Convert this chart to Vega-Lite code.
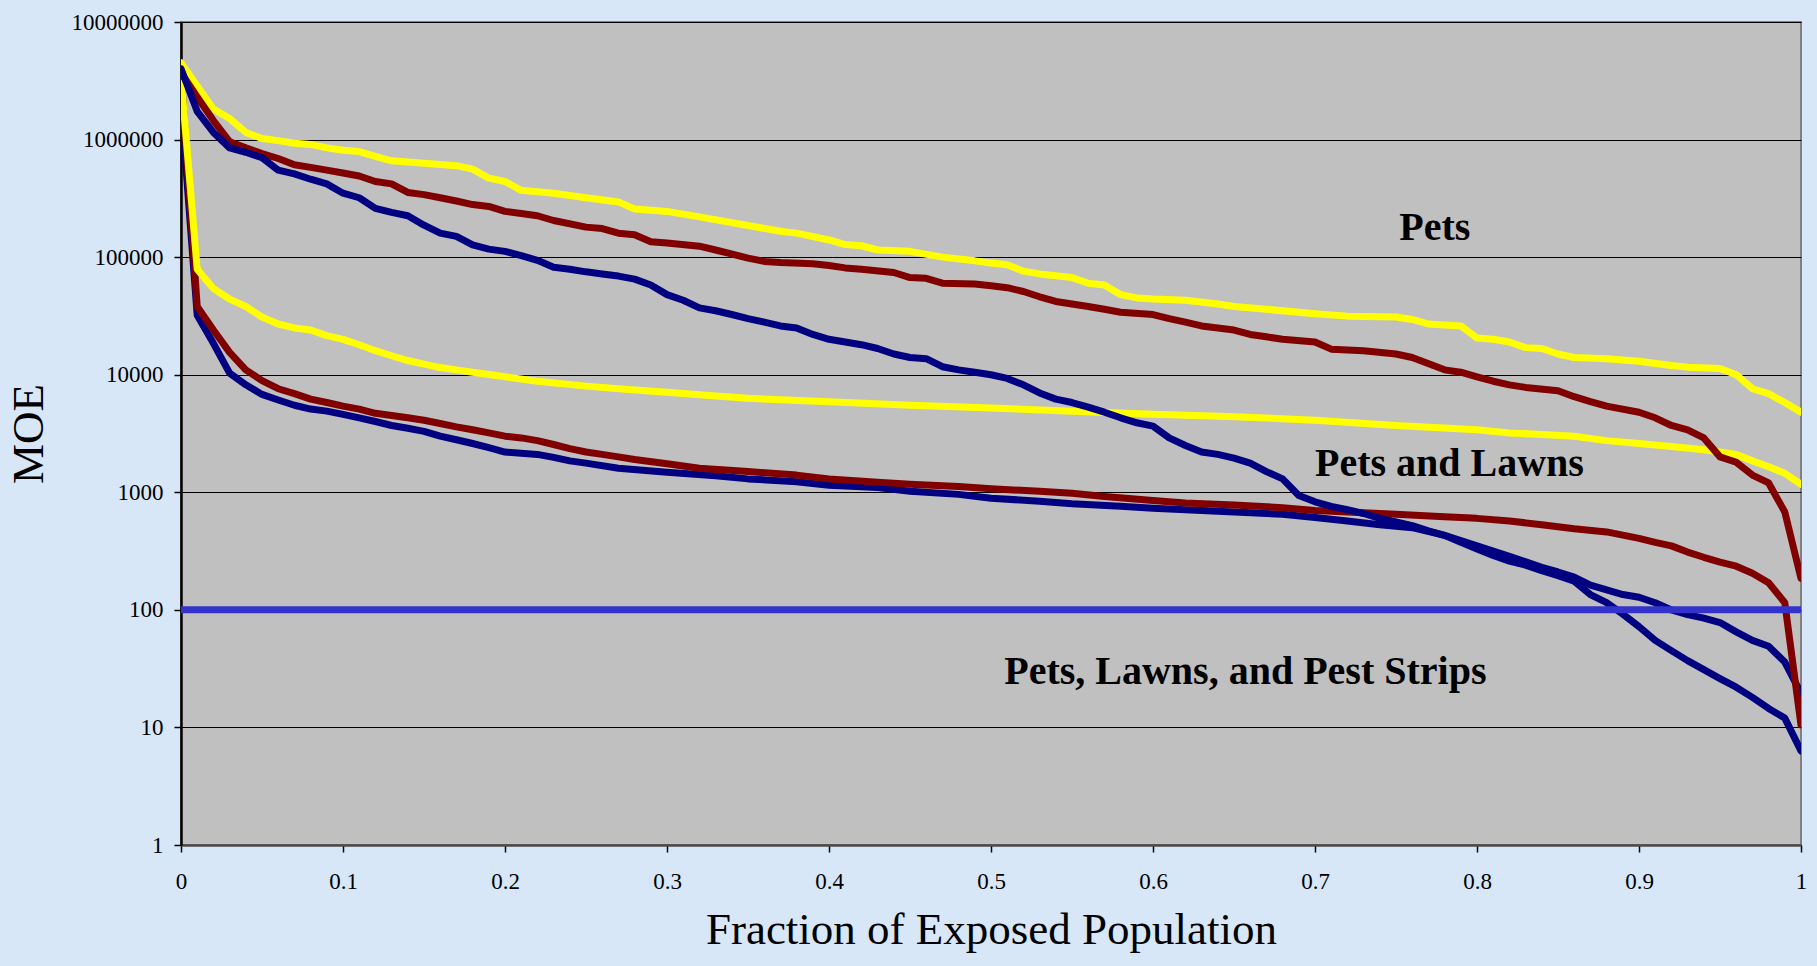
{
"$schema": "https://vega.github.io/schema/vega-lite/v6.json",
"width": 1620, "height": 823,
"autosize": {"type": "none"},
"padding": {"left": 181, "top": 22, "right": 16, "bottom": 121},
"background": "#D7E7F8",
"config": {"view": {"fill": "#C0C0C0", "stroke": "#808080", "strokeWidth": 2}, "font": "Liberation Serif"},
"datasets": {
"curves": [
{"s":"blue lower","f":0,"moe":2100000},{"s":"blue lower","f":0.01,"moe":32000},{"s":"blue lower","f":0.02,"moe":18500},{"s":"blue lower","f":0.03,"moe":10300},{"s":"blue lower","f":0.04,"moe":8200},{"s":"blue lower","f":0.05,"moe":6800},{"s":"blue lower","f":0.06,"moe":6100},{"s":"blue lower","f":0.07,"moe":5500},{"s":"blue lower","f":0.08,"moe":5100},{"s":"blue lower","f":0.09,"moe":4900},{"s":"blue lower","f":0.1,"moe":4600},{"s":"blue lower","f":0.11,"moe":4300},{"s":"blue lower","f":0.12,"moe":4000},{"s":"blue lower","f":0.13,"moe":3700},{"s":"blue lower","f":0.14,"moe":3500},{"s":"blue lower","f":0.15,"moe":3300},{"s":"blue lower","f":0.16,"moe":3000},{"s":"blue lower","f":0.17,"moe":2800},{"s":"blue lower","f":0.18,"moe":2600},{"s":"blue lower","f":0.19,"moe":2400},{"s":"blue lower","f":0.2,"moe":2200},{"s":"blue lower","f":0.22,"moe":2100},{"s":"blue lower","f":0.23,"moe":1980},{"s":"blue lower","f":0.24,"moe":1850},{"s":"blue lower","f":0.25,"moe":1770},{"s":"blue lower","f":0.27,"moe":1600},{"s":"blue lower","f":0.3,"moe":1480},{"s":"blue lower","f":0.33,"moe":1380},{"s":"blue lower","f":0.35,"moe":1300},{"s":"blue lower","f":0.38,"moe":1230},{"s":"blue lower","f":0.4,"moe":1150},{"s":"blue lower","f":0.43,"moe":1100},{"s":"blue lower","f":0.45,"moe":1020},{"s":"blue lower","f":0.48,"moe":960},{"s":"blue lower","f":0.5,"moe":890},{"s":"blue lower","f":0.53,"moe":840},{"s":"blue lower","f":0.55,"moe":800},{"s":"blue lower","f":0.58,"moe":760},{"s":"blue lower","f":0.6,"moe":730},{"s":"blue lower","f":0.63,"moe":700},{"s":"blue lower","f":0.65,"moe":680},{"s":"blue lower","f":0.68,"moe":650},{"s":"blue lower","f":0.7,"moe":610},{"s":"blue lower","f":0.72,"moe":570},{"s":"blue lower","f":0.74,"moe":530},{"s":"blue lower","f":0.76,"moe":500},{"s":"blue lower","f":0.78,"moe":430},{"s":"blue lower","f":0.8,"moe":350},{"s":"blue lower","f":0.82,"moe":285},{"s":"blue lower","f":0.84,"moe":230},{"s":"blue lower","f":0.85,"moe":210},{"s":"blue lower","f":0.86,"moe":190},{"s":"blue lower","f":0.87,"moe":162},{"s":"blue lower","f":0.88,"moe":148},{"s":"blue lower","f":0.89,"moe":135},{"s":"blue lower","f":0.9,"moe":128},{"s":"blue lower","f":0.91,"moe":115},{"s":"blue lower","f":0.92,"moe":100},{"s":"blue lower","f":0.93,"moe":91},{"s":"blue lower","f":0.94,"moe":85},{"s":"blue lower","f":0.95,"moe":78},{"s":"blue lower","f":0.96,"moe":65},{"s":"blue lower","f":0.97,"moe":55},{"s":"blue lower","f":0.98,"moe":49},{"s":"blue lower","f":0.99,"moe":36},{"s":"blue lower","f":1,"moe":19.5},
{"s":"red lower","f":0,"moe":3700000},{"s":"red lower","f":0.01,"moe":38000},{"s":"red lower","f":0.02,"moe":24000},{"s":"red lower","f":0.03,"moe":15500},{"s":"red lower","f":0.04,"moe":11000},{"s":"red lower","f":0.05,"moe":8900},{"s":"red lower","f":0.06,"moe":7600},{"s":"red lower","f":0.07,"moe":6900},{"s":"red lower","f":0.08,"moe":6200},{"s":"red lower","f":0.09,"moe":5800},{"s":"red lower","f":0.1,"moe":5400},{"s":"red lower","f":0.11,"moe":5100},{"s":"red lower","f":0.12,"moe":4700},{"s":"red lower","f":0.13,"moe":4500},{"s":"red lower","f":0.14,"moe":4300},{"s":"red lower","f":0.15,"moe":4100},{"s":"red lower","f":0.16,"moe":3850},{"s":"red lower","f":0.17,"moe":3600},{"s":"red lower","f":0.18,"moe":3400},{"s":"red lower","f":0.19,"moe":3200},{"s":"red lower","f":0.2,"moe":3000},{"s":"red lower","f":0.21,"moe":2900},{"s":"red lower","f":0.22,"moe":2750},{"s":"red lower","f":0.23,"moe":2550},{"s":"red lower","f":0.24,"moe":2350},{"s":"red lower","f":0.25,"moe":2200},{"s":"red lower","f":0.26,"moe":2100},{"s":"red lower","f":0.27,"moe":2000},{"s":"red lower","f":0.28,"moe":1900},{"s":"red lower","f":0.3,"moe":1750},{"s":"red lower","f":0.32,"moe":1600},{"s":"red lower","f":0.35,"moe":1500},{"s":"red lower","f":0.38,"moe":1400},{"s":"red lower","f":0.4,"moe":1300},{"s":"red lower","f":0.43,"moe":1220},{"s":"red lower","f":0.45,"moe":1170},{"s":"red lower","f":0.48,"moe":1120},{"s":"red lower","f":0.5,"moe":1070},{"s":"red lower","f":0.53,"moe":1020},{"s":"red lower","f":0.55,"moe":980},{"s":"red lower","f":0.57,"moe":920},{"s":"red lower","f":0.6,"moe":850},{"s":"red lower","f":0.62,"moe":810},{"s":"red lower","f":0.65,"moe":780},{"s":"red lower","f":0.68,"moe":740},{"s":"red lower","f":0.7,"moe":700},{"s":"red lower","f":0.73,"moe":670},{"s":"red lower","f":0.75,"moe":650},{"s":"red lower","f":0.78,"moe":620},{"s":"red lower","f":0.8,"moe":600},{"s":"red lower","f":0.82,"moe":570},{"s":"red lower","f":0.84,"moe":530},{"s":"red lower","f":0.86,"moe":490},{"s":"red lower","f":0.88,"moe":460},{"s":"red lower","f":0.9,"moe":405},{"s":"red lower","f":0.91,"moe":375},{"s":"red lower","f":0.92,"moe":350},{"s":"red lower","f":0.93,"moe":310},{"s":"red lower","f":0.94,"moe":280},{"s":"red lower","f":0.95,"moe":255},{"s":"red lower","f":0.96,"moe":235},{"s":"red lower","f":0.97,"moe":205},{"s":"red lower","f":0.98,"moe":170},{"s":"red lower","f":0.99,"moe":115},{"s":"red lower","f":1,"moe":10.5},
{"s":"yellow lower","f":0,"moe":3400000},{"s":"yellow lower","f":0.01,"moe":79000},{"s":"yellow lower","f":0.02,"moe":54000},{"s":"yellow lower","f":0.03,"moe":44000},{"s":"yellow lower","f":0.04,"moe":38000},{"s":"yellow lower","f":0.05,"moe":31000},{"s":"yellow lower","f":0.06,"moe":27000},{"s":"yellow lower","f":0.07,"moe":25000},{"s":"yellow lower","f":0.08,"moe":24000},{"s":"yellow lower","f":0.09,"moe":21500},{"s":"yellow lower","f":0.1,"moe":20000},{"s":"yellow lower","f":0.11,"moe":18000},{"s":"yellow lower","f":0.12,"moe":16000},{"s":"yellow lower","f":0.13,"moe":14500},{"s":"yellow lower","f":0.14,"moe":13200},{"s":"yellow lower","f":0.15,"moe":12300},{"s":"yellow lower","f":0.16,"moe":11500},{"s":"yellow lower","f":0.17,"moe":11000},{"s":"yellow lower","f":0.18,"moe":10500},{"s":"yellow lower","f":0.2,"moe":9600},{"s":"yellow lower","f":0.22,"moe":8800},{"s":"yellow lower","f":0.25,"moe":8000},{"s":"yellow lower","f":0.28,"moe":7400},{"s":"yellow lower","f":0.3,"moe":7100},{"s":"yellow lower","f":0.33,"moe":6600},{"s":"yellow lower","f":0.35,"moe":6300},{"s":"yellow lower","f":0.4,"moe":5900},{"s":"yellow lower","f":0.45,"moe":5500},{"s":"yellow lower","f":0.5,"moe":5200},{"s":"yellow lower","f":0.55,"moe":4900},{"s":"yellow lower","f":0.6,"moe":4600},{"s":"yellow lower","f":0.65,"moe":4400},{"s":"yellow lower","f":0.7,"moe":4100},{"s":"yellow lower","f":0.75,"moe":3700},{"s":"yellow lower","f":0.8,"moe":3400},{"s":"yellow lower","f":0.82,"moe":3200},{"s":"yellow lower","f":0.84,"moe":3100},{"s":"yellow lower","f":0.86,"moe":3000},{"s":"yellow lower","f":0.88,"moe":2750},{"s":"yellow lower","f":0.9,"moe":2600},{"s":"yellow lower","f":0.92,"moe":2450},{"s":"yellow lower","f":0.94,"moe":2300},{"s":"yellow lower","f":0.95,"moe":2200},{"s":"yellow lower","f":0.96,"moe":2100},{"s":"yellow lower","f":0.97,"moe":1850},{"s":"yellow lower","f":0.98,"moe":1650},{"s":"yellow lower","f":0.99,"moe":1450},{"s":"yellow lower","f":1,"moe":1170},
{"s":"yellow upper","f":0,"moe":4500000},{"s":"yellow upper","f":0.01,"moe":2860000},{"s":"yellow upper","f":0.02,"moe":1820000},{"s":"yellow upper","f":0.03,"moe":1510000},{"s":"yellow upper","f":0.04,"moe":1150000},{"s":"yellow upper","f":0.05,"moe":1020000},{"s":"yellow upper","f":0.06,"moe":980000},{"s":"yellow upper","f":0.07,"moe":930000},{"s":"yellow upper","f":0.08,"moe":910000},{"s":"yellow upper","f":0.09,"moe":850000},{"s":"yellow upper","f":0.1,"moe":810000},{"s":"yellow upper","f":0.11,"moe":790000},{"s":"yellow upper","f":0.12,"moe":720000},{"s":"yellow upper","f":0.13,"moe":660000},{"s":"yellow upper","f":0.15,"moe":630000},{"s":"yellow upper","f":0.17,"moe":600000},{"s":"yellow upper","f":0.18,"moe":560000},{"s":"yellow upper","f":0.19,"moe":470000},{"s":"yellow upper","f":0.2,"moe":440000},{"s":"yellow upper","f":0.21,"moe":370000},{"s":"yellow upper","f":0.23,"moe":350000},{"s":"yellow upper","f":0.25,"moe":320000},{"s":"yellow upper","f":0.27,"moe":295000},{"s":"yellow upper","f":0.28,"moe":257000},{"s":"yellow upper","f":0.3,"moe":245000},{"s":"yellow upper","f":0.32,"moe":220000},{"s":"yellow upper","f":0.35,"moe":186000},{"s":"yellow upper","f":0.37,"moe":166000},{"s":"yellow upper","f":0.38,"moe":160000},{"s":"yellow upper","f":0.4,"moe":140000},{"s":"yellow upper","f":0.41,"moe":128000},{"s":"yellow upper","f":0.42,"moe":125000},{"s":"yellow upper","f":0.43,"moe":115000},{"s":"yellow upper","f":0.45,"moe":112000},{"s":"yellow upper","f":0.47,"moe":100000},{"s":"yellow upper","f":0.49,"moe":93000},{"s":"yellow upper","f":0.5,"moe":89000},{"s":"yellow upper","f":0.51,"moe":86000},{"s":"yellow upper","f":0.52,"moe":76000},{"s":"yellow upper","f":0.53,"moe":72000},{"s":"yellow upper","f":0.55,"moe":67000},{"s":"yellow upper","f":0.56,"moe":60000},{"s":"yellow upper","f":0.57,"moe":58000},{"s":"yellow upper","f":0.58,"moe":48000},{"s":"yellow upper","f":0.59,"moe":45000},{"s":"yellow upper","f":0.6,"moe":44000},{"s":"yellow upper","f":0.62,"moe":43000},{"s":"yellow upper","f":0.64,"moe":40000},{"s":"yellow upper","f":0.65,"moe":38000},{"s":"yellow upper","f":0.67,"moe":36000},{"s":"yellow upper","f":0.7,"moe":33000},{"s":"yellow upper","f":0.72,"moe":31500},{"s":"yellow upper","f":0.75,"moe":31000},{"s":"yellow upper","f":0.76,"moe":29500},{"s":"yellow upper","f":0.77,"moe":27000},{"s":"yellow upper","f":0.79,"moe":26000},{"s":"yellow upper","f":0.8,"moe":20500},{"s":"yellow upper","f":0.81,"moe":20000},{"s":"yellow upper","f":0.82,"moe":19000},{"s":"yellow upper","f":0.83,"moe":17000},{"s":"yellow upper","f":0.84,"moe":16700},{"s":"yellow upper","f":0.85,"moe":15000},{"s":"yellow upper","f":0.86,"moe":14000},{"s":"yellow upper","f":0.88,"moe":13700},{"s":"yellow upper","f":0.9,"moe":13000},{"s":"yellow upper","f":0.92,"moe":12000},{"s":"yellow upper","f":0.93,"moe":11600},{"s":"yellow upper","f":0.95,"moe":11300},{"s":"yellow upper","f":0.96,"moe":10000},{"s":"yellow upper","f":0.97,"moe":7600},{"s":"yellow upper","f":0.98,"moe":6900},{"s":"yellow upper","f":0.99,"moe":5800},{"s":"yellow upper","f":1,"moe":4800},
{"s":"red upper","f":0,"moe":3700000},{"s":"red upper","f":0.01,"moe":2300000},{"s":"red upper","f":0.02,"moe":1450000},{"s":"red upper","f":0.03,"moe":960000},{"s":"red upper","f":0.04,"moe":850000},{"s":"red upper","f":0.05,"moe":760000},{"s":"red upper","f":0.06,"moe":690000},{"s":"red upper","f":0.07,"moe":610000},{"s":"red upper","f":0.08,"moe":580000},{"s":"red upper","f":0.09,"moe":550000},{"s":"red upper","f":0.1,"moe":520000},{"s":"red upper","f":0.11,"moe":490000},{"s":"red upper","f":0.12,"moe":440000},{"s":"red upper","f":0.13,"moe":420000},{"s":"red upper","f":0.14,"moe":355000},{"s":"red upper","f":0.15,"moe":340000},{"s":"red upper","f":0.16,"moe":320000},{"s":"red upper","f":0.17,"moe":300000},{"s":"red upper","f":0.18,"moe":280000},{"s":"red upper","f":0.19,"moe":270000},{"s":"red upper","f":0.2,"moe":245000},{"s":"red upper","f":0.21,"moe":235000},{"s":"red upper","f":0.22,"moe":225000},{"s":"red upper","f":0.23,"moe":205000},{"s":"red upper","f":0.25,"moe":180000},{"s":"red upper","f":0.26,"moe":175000},{"s":"red upper","f":0.27,"moe":160000},{"s":"red upper","f":0.28,"moe":155000},{"s":"red upper","f":0.29,"moe":135000},{"s":"red upper","f":0.3,"moe":132000},{"s":"red upper","f":0.32,"moe":124000},{"s":"red upper","f":0.33,"moe":115000},{"s":"red upper","f":0.35,"moe":98000},{"s":"red upper","f":0.36,"moe":92000},{"s":"red upper","f":0.37,"moe":90000},{"s":"red upper","f":0.39,"moe":88000},{"s":"red upper","f":0.4,"moe":85000},{"s":"red upper","f":0.41,"moe":81000},{"s":"red upper","f":0.42,"moe":79000},{"s":"red upper","f":0.44,"moe":74000},{"s":"red upper","f":0.45,"moe":67000},{"s":"red upper","f":0.46,"moe":66000},{"s":"red upper","f":0.47,"moe":60000},{"s":"red upper","f":0.49,"moe":59000},{"s":"red upper","f":0.5,"moe":57000},{"s":"red upper","f":0.51,"moe":55000},{"s":"red upper","f":0.52,"moe":51000},{"s":"red upper","f":0.53,"moe":46000},{"s":"red upper","f":0.54,"moe":42000},{"s":"red upper","f":0.56,"moe":38000},{"s":"red upper","f":0.57,"moe":36000},{"s":"red upper","f":0.58,"moe":34000},{"s":"red upper","f":0.6,"moe":32500},{"s":"red upper","f":0.61,"moe":30000},{"s":"red upper","f":0.62,"moe":28000},{"s":"red upper","f":0.63,"moe":26000},{"s":"red upper","f":0.65,"moe":24000},{"s":"red upper","f":0.66,"moe":22000},{"s":"red upper","f":0.67,"moe":21000},{"s":"red upper","f":0.68,"moe":20000},{"s":"red upper","f":0.7,"moe":19000},{"s":"red upper","f":0.71,"moe":16500},{"s":"red upper","f":0.73,"moe":16000},{"s":"red upper","f":0.75,"moe":15000},{"s":"red upper","f":0.76,"moe":14000},{"s":"red upper","f":0.78,"moe":11000},{"s":"red upper","f":0.79,"moe":10500},{"s":"red upper","f":0.8,"moe":9600},{"s":"red upper","f":0.81,"moe":8800},{"s":"red upper","f":0.82,"moe":8200},{"s":"red upper","f":0.83,"moe":7800},{"s":"red upper","f":0.85,"moe":7300},{"s":"red upper","f":0.86,"moe":6500},{"s":"red upper","f":0.87,"moe":5900},{"s":"red upper","f":0.88,"moe":5400},{"s":"red upper","f":0.9,"moe":4800},{"s":"red upper","f":0.91,"moe":4300},{"s":"red upper","f":0.92,"moe":3700},{"s":"red upper","f":0.93,"moe":3400},{"s":"red upper","f":0.94,"moe":2900},{"s":"red upper","f":0.95,"moe":2000},{"s":"red upper","f":0.96,"moe":1800},{"s":"red upper","f":0.97,"moe":1400},{"s":"red upper","f":0.98,"moe":1200},{"s":"red upper","f":0.99,"moe":680},{"s":"red upper","f":1,"moe":185},
{"s":"blue upper","f":0,"moe":4000000},{"s":"blue upper","f":0.01,"moe":1740000},{"s":"blue upper","f":0.02,"moe":1150000},{"s":"blue upper","f":0.03,"moe":850000},{"s":"blue upper","f":0.04,"moe":780000},{"s":"blue upper","f":0.05,"moe":700000},{"s":"blue upper","f":0.06,"moe":550000},{"s":"blue upper","f":0.07,"moe":510000},{"s":"blue upper","f":0.08,"moe":460000},{"s":"blue upper","f":0.09,"moe":420000},{"s":"blue upper","f":0.1,"moe":350000},{"s":"blue upper","f":0.11,"moe":320000},{"s":"blue upper","f":0.12,"moe":260000},{"s":"blue upper","f":0.13,"moe":240000},{"s":"blue upper","f":0.14,"moe":225000},{"s":"blue upper","f":0.15,"moe":187000},{"s":"blue upper","f":0.16,"moe":160000},{"s":"blue upper","f":0.17,"moe":150000},{"s":"blue upper","f":0.18,"moe":127000},{"s":"blue upper","f":0.19,"moe":117000},{"s":"blue upper","f":0.2,"moe":112000},{"s":"blue upper","f":0.21,"moe":103000},{"s":"blue upper","f":0.22,"moe":94000},{"s":"blue upper","f":0.23,"moe":82000},{"s":"blue upper","f":0.24,"moe":79000},{"s":"blue upper","f":0.25,"moe":75000},{"s":"blue upper","f":0.26,"moe":72000},{"s":"blue upper","f":0.27,"moe":69000},{"s":"blue upper","f":0.28,"moe":65000},{"s":"blue upper","f":0.29,"moe":58000},{"s":"blue upper","f":0.3,"moe":48000},{"s":"blue upper","f":0.31,"moe":43000},{"s":"blue upper","f":0.32,"moe":37000},{"s":"blue upper","f":0.33,"moe":35000},{"s":"blue upper","f":0.34,"moe":32500},{"s":"blue upper","f":0.35,"moe":30000},{"s":"blue upper","f":0.36,"moe":28000},{"s":"blue upper","f":0.37,"moe":26000},{"s":"blue upper","f":0.38,"moe":25000},{"s":"blue upper","f":0.39,"moe":22000},{"s":"blue upper","f":0.4,"moe":20000},{"s":"blue upper","f":0.41,"moe":19000},{"s":"blue upper","f":0.42,"moe":18000},{"s":"blue upper","f":0.43,"moe":16700},{"s":"blue upper","f":0.44,"moe":15000},{"s":"blue upper","f":0.45,"moe":14000},{"s":"blue upper","f":0.46,"moe":13700},{"s":"blue upper","f":0.47,"moe":11700},{"s":"blue upper","f":0.48,"moe":11000},{"s":"blue upper","f":0.49,"moe":10500},{"s":"blue upper","f":0.5,"moe":10000},{"s":"blue upper","f":0.51,"moe":9300},{"s":"blue upper","f":0.52,"moe":8200},{"s":"blue upper","f":0.53,"moe":7000},{"s":"blue upper","f":0.54,"moe":6200},{"s":"blue upper","f":0.55,"moe":5800},{"s":"blue upper","f":0.56,"moe":5300},{"s":"blue upper","f":0.57,"moe":4800},{"s":"blue upper","f":0.58,"moe":4300},{"s":"blue upper","f":0.59,"moe":3900},{"s":"blue upper","f":0.6,"moe":3650},{"s":"blue upper","f":0.61,"moe":2900},{"s":"blue upper","f":0.62,"moe":2500},{"s":"blue upper","f":0.63,"moe":2200},{"s":"blue upper","f":0.64,"moe":2100},{"s":"blue upper","f":0.65,"moe":1950},{"s":"blue upper","f":0.66,"moe":1770},{"s":"blue upper","f":0.67,"moe":1500},{"s":"blue upper","f":0.68,"moe":1300},{"s":"blue upper","f":0.69,"moe":940},{"s":"blue upper","f":0.7,"moe":830},{"s":"blue upper","f":0.71,"moe":760},{"s":"blue upper","f":0.72,"moe":710},{"s":"blue upper","f":0.73,"moe":660},{"s":"blue upper","f":0.74,"moe":600},{"s":"blue upper","f":0.75,"moe":560},{"s":"blue upper","f":0.76,"moe":520},{"s":"blue upper","f":0.77,"moe":470},{"s":"blue upper","f":0.78,"moe":430},{"s":"blue upper","f":0.79,"moe":375},{"s":"blue upper","f":0.8,"moe":330},{"s":"blue upper","f":0.81,"moe":290},{"s":"blue upper","f":0.82,"moe":260},{"s":"blue upper","f":0.83,"moe":240},{"s":"blue upper","f":0.84,"moe":215},{"s":"blue upper","f":0.85,"moe":195},{"s":"blue upper","f":0.86,"moe":175},{"s":"blue upper","f":0.87,"moe":135},{"s":"blue upper","f":0.88,"moe":115},{"s":"blue upper","f":0.89,"moe":92},{"s":"blue upper","f":0.9,"moe":72},{"s":"blue upper","f":0.91,"moe":55},{"s":"blue upper","f":0.92,"moe":45},{"s":"blue upper","f":0.93,"moe":37},{"s":"blue upper","f":0.94,"moe":31},{"s":"blue upper","f":0.95,"moe":26},{"s":"blue upper","f":0.96,"moe":22},{"s":"blue upper","f":0.97,"moe":18},{"s":"blue upper","f":0.98,"moe":14.5},{"s":"blue upper","f":0.99,"moe":12},{"s":"blue upper","f":1,"moe":6.3}
],
"threshold": [{"moe": 100}],
"labels": [
{"label": "Pets", "f": 0.774, "moe": 178000},
{"label": "Pets and Lawns", "f": 0.783, "moe": 1740},
{"label": "Pets, Lawns, and Pest Strips", "f": 0.657, "moe": 29.5}
]
},
"layer": [
{
"data": {"name": "curves"},
"mark": {"type": "line", "strokeWidth": 7, "strokeJoin": "round", "strokeCap": "round", "clip": true},
"encoding": {
"x": {"field": "f", "type": "quantitative",
"scale": {"domain": [0, 1], "nice": false, "zero": false},
"axis": {"title": "Fraction of Exposed Population", "values": [0,0.1,0.2,0.3,0.4,0.5,0.6,0.7,0.8,0.9,1], "format": "~g",
"grid": false, "labelFont": "Liberation Serif", "labelFontSize": 23, "labelColor": "#000000", "labelPadding": 18,
"tickSize": 7, "tickColor": "#000000", "tickWidth": 1.5, "domainColor": "#4a4a4a", "domainWidth": 2.5,
"titleFont": "Liberation Serif", "titleFontSize": 45, "titleFontWeight": "normal", "titleColor": "#000000", "titlePadding": 14, "labelFlush": false}},
"y": {"field": "moe", "type": "quantitative",
"scale": {"type": "log", "domain": [1, 10000000], "nice": false},
"axis": {"title": "MOE", "values": [1,10,100,1000,10000,100000,1000000,10000000], "format": "d",
"grid": true, "gridColor": "#000000", "gridWidth": 1.2, "labelFont": "Liberation Serif", "labelFontSize": 23, "labelColor": "#000000", "labelPadding": 11,
"tickSize": 7, "tickColor": "#000000", "tickWidth": 1.5, "domainColor": "#000000", "domainWidth": 2.5,
"titleFont": "Liberation Serif", "titleFontSize": 45, "titleFontWeight": "normal", "titleColor": "#000000", "titlePadding": 20, "labelFlush": false}},
"color": {"field": "s", "type": "nominal", "legend": null,
"scale": {"domain": ["blue lower","red lower","yellow lower","yellow upper","red upper","blue upper"],
"range": ["#000080","#800000","#FFFF00","#FFFF00","#800000","#000080"]}}
}
},
{
"data": {"name": "threshold"},
"mark": {"type": "rule", "color": "#3333CC", "strokeWidth": 7},
"encoding": {"y": {"field": "moe", "type": "quantitative"}}
},
{
"data": {"name": "labels"},
"mark": {"type": "text", "font": "Liberation Serif", "fontWeight": "bold", "fontSize": 40, "color": "#000000", "align": "center", "baseline": "middle"},
"encoding": {
"x": {"field": "f", "type": "quantitative"},
"y": {"field": "moe", "type": "quantitative"},
"text": {"field": "label", "type": "nominal"}
}
}
]
}
